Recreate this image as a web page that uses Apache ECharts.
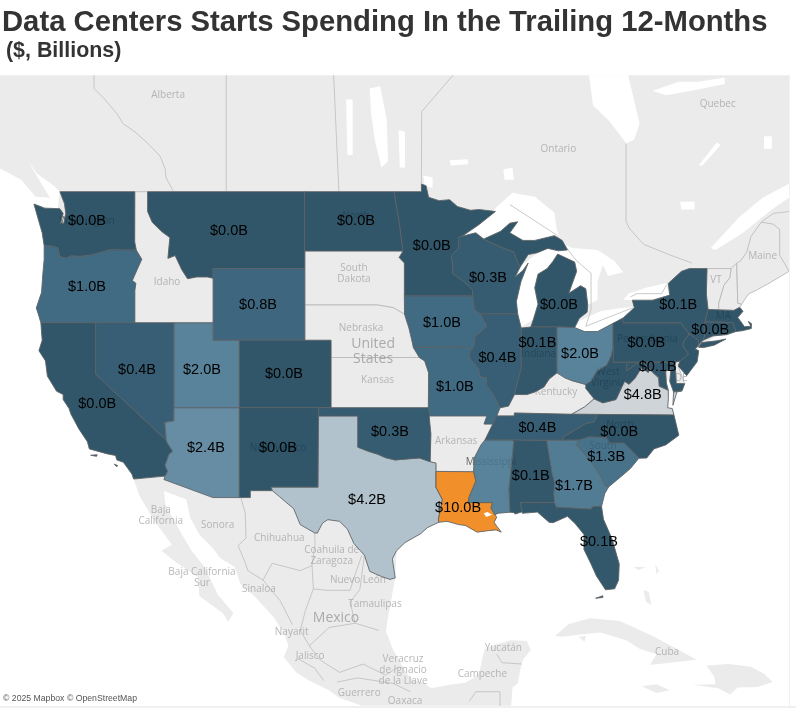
<!DOCTYPE html>
<html>
<head>
<meta charset="utf-8">
<title>Data Centers Starts Spending</title>
<script src="https://cdn.jsdelivr.net/npm/echarts@6/dist/echarts.min.js"></script>
<style>
html, body { margin: 0; padding: 0; background: #fff; }
#main { width: 796px; height: 712px; }
</style>
</head>
<body>
<div id="main"></div>
<script>
// values ($ billions)
var labeledStates = ['Washington', 'Oregon', 'California', 'Nevada', 'Montana', 'Wyoming', 'Utah', 'Colorado',
    'Arizona', 'New Mexico', 'North Dakota', 'Minnesota', 'Iowa', 'Missouri', 'Wisconsin', 'Illinois', 'Michigan',
    'Indiana', 'Ohio', 'Pennsylvania', 'New York', 'Massachusetts', 'Maryland', 'Virginia', 'Tennessee',
    'North Carolina', 'South Carolina', 'Georgia', 'Alabama', 'Florida', 'Texas', 'Oklahoma', 'Louisiana'];
var labeledValues = [0.0, 1.0, 0.0, 0.4, 0.0, 0.8, 2.0, 0.0,
    2.4, 0.0, 0.0, 0.0, 1.0, 1.0, 0.3, 0.4, 0.0,
    0.1, 2.0, 0.0, 0.1, 0.0, 0.1, 4.8, 0.4,
    0.0, 1.3, 1.7, 0.1, 0.1, 4.2, 0.3, 10.0];
// coloured on the map but the label was dropped in the original
var unlabeledStates = ['Mississippi', 'West Virginia', 'New Jersey', 'Connecticut', 'Rhode Island'];
var unlabeledValues = [2.0, 0.0, 0.0, 0.0, 0.0];

var colorRamp = ['#174157', '#295874', '#447490', '#6b90a8', '#9fb5c2', '#d3d7da',
    '#dfc5a6', '#e8af70', '#ec9f4d', '#ef902e', '#f18210'];

// state outlines, [lon, lat]
var outlines = {
    'Washington': [[[-124.73,48.38],[-123.9,48.17],[-123.1,48.15],[-122.75,48.14],[-122.5,47.9],[-122.7,47.4],[-122.45,47.4],[-122.3,47.9],[-122.4,48.4],[-122.75,49],[-117.03,49],[-117.04,46.42],[-116.92,45.99],[-118.98,46],[-119.3,45.93],[-120.5,45.7],[-121.2,45.65],[-121.9,45.68],[-122.3,45.55],[-122.78,45.65],[-122.9,46.1],[-123.4,46.2],[-123.95,46.22],[-124.1,46.9],[-124.4,47.6]]],
    'Oregon': [[[-123.95,46.22],[-123.4,46.2],[-122.9,46.1],[-122.78,45.65],[-122.3,45.55],[-121.9,45.68],[-121.2,45.65],[-120.5,45.7],[-119.3,45.93],[-118.98,46],[-116.92,45.99],[-116.5,45.5],[-116.85,44.95],[-117.22,44.35],[-116.95,44.2],[-117.03,43.8],[-117.03,42],[-124.2,42],[-124.4,42.5],[-124.55,42.84],[-124.15,43.7],[-124.05,44.7],[-123.95,45.5]]],
    'California': [[[-124.2,42],[-120,42],[-120,39],[-114.63,35],[-114.57,34.85],[-114.14,34.3],[-114.43,34.1],[-114.72,33.4],[-114.52,33.03],[-114.72,32.72],[-117.12,32.53],[-117.25,32.85],[-117.9,33.6],[-118.4,33.75],[-118.5,34.03],[-119.2,34.15],[-120.5,34.45],[-120.65,34.9],[-121.3,35.7],[-121.9,36.6],[-122.05,36.95],[-122.5,37.5],[-122.5,37.8],[-123,38],[-123.7,38.9],[-123.85,39.8],[-124.35,40.4],[-124.1,41]],
        [[-120.4,34.05],[-119.9,34.08],[-119.95,33.98]], [[-118.6,33.48],[-118.35,33.4],[-118.4,33.32]]],
    'Nevada': [[[-120,42],[-114.04,42],[-114.04,37],[-114.05,36.2],[-114.74,36.1],[-114.63,35],[-120,39]]],
    'Montana': [[[-116.05,49],[-104.05,49],[-104.05,45],[-111.05,45],[-111.05,44.48],[-111.5,44.55],[-112.3,44.55],[-113,44.45],[-113.45,44.95],[-113.95,45.7],[-114.5,45.55],[-114.35,46.65],[-114.95,46.95],[-115.7,47.45],[-116.05,48]]],
    'Wyoming': [[[-111.05,45],[-104.05,45],[-104.05,41],[-111.05,41]]],
    'Utah': [[[-114.04,42],[-111.05,42],[-111.05,41],[-109.05,41],[-109.05,37],[-114.04,37]]],
    'Colorado': [[[-109.05,41],[-102.05,41],[-102.05,37],[-109.05,37]]],
    'Arizona': [[[-114.04,37],[-109.05,37],[-109.05,31.33],[-111.07,31.33],[-114.81,32.5],[-114.72,32.72],[-114.52,33.03],[-114.72,33.4],[-114.43,34.1],[-114.14,34.3],[-114.57,34.85],[-114.63,35],[-114.74,36.1],[-114.05,36.2]]],
    'New Mexico': [[[-109.05,37],[-103,37],[-103.04,32],[-106.62,32],[-106.53,31.78],[-108.21,31.78],[-108.21,31.33],[-109.05,31.33]]],
    'North Dakota': [[[-104.05,49],[-97.23,49],[-96.85,47.5],[-96.55,45.94],[-104.05,45.94]]],
    'Minnesota': [[[-97.23,49],[-95.15,49],[-95.15,49.38],[-94.8,49.3],[-94.6,48.72],[-93.8,48.55],[-93,48.6],[-92.4,48.25],[-91.4,48.06],[-90.75,48.1],[-89.5,48],[-90.8,47.3],[-92.05,46.72],[-92.29,46.66],[-92.29,46.1],[-92.87,45.7],[-92.75,45.2],[-92.8,44.75],[-91.9,44.3],[-91.25,43.85],[-91.22,43.5],[-96.45,43.5],[-96.45,45.3],[-96.85,45.6],[-96.55,45.94],[-96.85,47.5]]],
    'Iowa': [[[-96.45,43.5],[-91.22,43.5],[-91.1,42.75],[-90.65,42.5],[-90.15,41.8],[-91.05,41.2],[-91.1,40.7],[-91.42,40.38],[-91.73,40.61],[-95.77,40.58],[-95.85,40.9],[-96.1,41.7],[-96.44,42.49]]],
    'Missouri': [[[-95.77,40.58],[-91.73,40.61],[-91.42,40.38],[-91.5,40],[-90.75,39.3],[-90.7,38.9],[-90.15,38.8],[-90.2,38.4],[-89.55,37.7],[-89.15,37],[-89.4,36.5],[-89.7,36],[-90.37,36],[-90.15,36.5],[-94.62,36.5],[-94.62,37],[-94.6,39.1],[-94.9,39.8],[-95.31,40]]],
    'Wisconsin': [[[-92.29,46.66],[-92.05,46.72],[-91,46.9],[-90.4,46.57],[-89,46.13],[-88.1,45.9],[-87.8,45.35],[-87.6,45.1],[-88,44.55],[-87.4,44.9],[-87,45.3],[-87.55,44.3],[-87.9,43.2],[-87.8,42.5],[-90.65,42.5],[-91.1,42.75],[-91.22,43.5],[-91.25,43.85],[-91.9,44.3],[-92.8,44.75],[-92.75,45.2],[-92.87,45.7],[-92.29,46.1]]],
    'Illinois': [[[-90.65,42.5],[-87.8,42.5],[-87.53,41.7],[-87.53,39.35],[-88.05,37.8],[-88.5,37.1],[-89.15,37],[-89.55,37.7],[-90.2,38.4],[-90.15,38.8],[-90.7,38.9],[-90.75,39.3],[-91.5,40],[-91.42,40.38],[-91.1,40.7],[-91.05,41.2],[-90.15,41.8]]],
    'Michigan': [[[-86.8,41.76],[-84.8,41.76],[-83.45,41.73],[-83.1,42.25],[-82.5,42.6],[-82.45,43],[-82.6,43.9],[-83,44.07],[-83.9,43.65],[-83.3,44.85],[-83.45,45.35],[-84.75,45.78],[-85.1,45.4],[-85.55,45],[-86.25,44.7],[-86.5,43.95],[-86.25,43.05],[-86.6,42.2]],
        [[-90.4,46.57],[-89.1,46.98],[-88.4,47.4],[-87.8,47.47],[-88.4,46.9],[-87.4,46.5],[-86.5,46.5],[-85,46.75],[-84.4,46.5],[-84,46],[-84.7,45.95],[-85.5,46.08],[-86.3,45.85],[-87,45.75],[-87.6,45.1],[-87.8,45.35],[-88.1,45.9],[-89,46.13]]],
    'Indiana': [[[-87.53,41.7],[-86.8,41.76],[-84.8,41.76],[-84.8,39.1],[-85.4,38.73],[-85.8,38.25],[-86.5,37.95],[-87.1,37.8],[-88.05,37.8],[-87.53,39.35]]],
    'Ohio': [[[-84.8,41.76],[-83.45,41.73],[-82.7,41.5],[-81.7,41.5],[-80.52,41.97],[-80.52,40.64],[-80.65,40.1],[-81,39.55],[-81.75,39.2],[-82.2,38.6],[-82.6,38.4],[-83.65,38.63],[-84.2,38.8],[-84.8,39.1]]],
    'Pennsylvania': [[[-80.52,41.97],[-79.76,42.27],[-79.76,42],[-75.35,42],[-74.7,41.36],[-75.1,40.95],[-75.2,40.68],[-74.75,40.2],[-75.4,39.8],[-75.79,39.72],[-80.52,39.72],[-80.52,40.64]]],
    'New York': [[[-79.76,42.27],[-78.9,42.85],[-79.05,43.27],[-77.5,43.27],[-76.2,43.55],[-76.3,44.2],[-75.3,44.85],[-74.7,45],[-73.35,45],[-73.4,43.6],[-73.27,42.75],[-73.5,42.05],[-73.5,41.3],[-73.65,41],[-73.9,40.8],[-74.05,40.65],[-74,41],[-74.7,41.36],[-75.35,42],[-79.76,42]],
        [[-74,40.6],[-73.75,40.87],[-72.6,40.97],[-71.9,41.07],[-72.8,40.72],[-73.6,40.58]]],
    'Massachusetts': [[[-73.27,42.75],[-71.3,42.7],[-70.85,42.87],[-70.6,42.65],[-71,42.3],[-70.65,41.95],[-70.5,41.78],[-70,41.8],[-70.2,42.08],[-69.95,41.95],[-69.97,41.67],[-70.65,41.55],[-71.15,41.5],[-71.38,42.02],[-71.8,42.02],[-73.5,42.05]]],
    'Maryland': [[[-79.48,39.72],[-75.79,39.72],[-75.7,38.46],[-75.05,38.45],[-75.25,38.03],[-75.9,37.95],[-76.2,38.6],[-76.1,39.3],[-76.5,39.2],[-76.45,38.5],[-76.3,38.05],[-77,38.3],[-77.05,38.8],[-77.5,39.12],[-77.72,39.32],[-78.2,39.68],[-78.77,39.6],[-79.48,39.2]]],
    'Virginia': [[[-83.68,36.6],[-81.68,36.59],[-75.87,36.55],[-76,36.95],[-76.35,37],[-76.3,37.55],[-76.3,38.05],[-77,38.3],[-77.05,38.8],[-77.5,39.12],[-77.72,39.32],[-77.83,39.13],[-78.35,39.4],[-78.87,38.76],[-79.3,38.42],[-79.65,38.6],[-80.3,37.5],[-81.3,37.3],[-81.97,37.54],[-82.7,37.05]],
        [[-75.95,37.15],[-75.65,37.95],[-75.25,38.03],[-75.9,37.95]]],
    'West Virginia': [[[-80.52,40.64],[-80.52,39.72],[-79.48,39.72],[-79.48,39.2],[-78.77,39.6],[-78.2,39.68],[-77.72,39.32],[-77.83,39.13],[-78.35,39.4],[-78.87,38.76],[-79.3,38.42],[-79.65,38.6],[-80.3,37.5],[-81.3,37.3],[-81.97,37.54],[-82.6,38.17],[-82.6,38.4],[-82.2,38.6],[-81.75,39.2],[-81,39.55],[-80.65,40.1]]],
    'New Jersey': [[[-74.7,41.36],[-74,41],[-74.05,40.65],[-74.25,40.5],[-73.98,40.4],[-74.1,39.75],[-74.9,38.93],[-75.55,39.5],[-75.4,39.8],[-74.75,40.2],[-75.2,40.68],[-75.1,40.95]]],
    'Connecticut': [[[-73.5,42.05],[-71.8,42.02],[-71.85,41.32],[-72.9,41.25],[-73.65,41],[-73.5,41.3]]],
    'Rhode Island': [[[-71.8,42.02],[-71.38,42.02],[-71.15,41.5],[-71.85,41.32]]],
    'Tennessee': [[[-90.3,35],[-89.7,36],[-89.4,36.5],[-88.07,36.5],[-88.05,36.68],[-83.68,36.6],[-81.68,36.59],[-82,36.1],[-82.6,36.03],[-83.1,35.77],[-84.3,35.2],[-84.32,34.99],[-88.2,35]]],
    'North Carolina': [[[-84.32,34.99],[-84.3,35.2],[-83.1,35.77],[-82.6,36.03],[-82,36.1],[-81.68,36.59],[-75.87,36.55],[-75.5,35.3],[-76.5,34.7],[-77.4,34.45],[-77.95,33.87],[-78.55,33.86],[-79.67,34.8],[-80.8,34.82],[-81.05,35.15],[-82.35,35.2],[-83.1,35]]],
    'South Carolina': [[[-83.35,34.7],[-83.1,35],[-82.35,35.2],[-81.05,35.15],[-80.8,34.82],[-79.67,34.8],[-78.55,33.86],[-79.2,33.2],[-79.9,32.7],[-80.85,32.03],[-81.1,32.1],[-81.4,32.6],[-81.9,33.3],[-82.75,34.2]]],
    'Georgia': [[[-85.6,34.98],[-83.1,35],[-83.35,34.7],[-82.75,34.2],[-81.9,33.3],[-81.4,32.6],[-81.1,32.1],[-80.85,32.03],[-81.15,31.6],[-81.4,30.75],[-82.05,30.75],[-82.2,30.57],[-84.86,30.7],[-85,31],[-85.05,31.55],[-85,32.3],[-85.18,32.87]]],
    'Alabama': [[[-88.2,35],[-85.6,34.98],[-85.18,32.87],[-85,32.3],[-85.05,31.55],[-85,31],[-87.6,31],[-87.45,30.4],[-88,30.25],[-88.1,30.35],[-88.4,30.37],[-88.47,31.9],[-88.1,34.9]]],
    'Mississippi': [[[-91.17,33],[-91.1,33.9],[-90.6,34.7],[-90.3,35],[-88.2,35],[-88.1,34.9],[-88.47,31.9],[-88.4,30.37],[-89.3,30.3],[-89.55,30.2],[-89.85,30.65],[-89.73,31],[-91.6,31],[-91.5,31.4],[-91,32.4]]],
    'Florida': [[[-87.6,31],[-85,31],[-84.86,30.7],[-82.2,30.57],[-82.05,30.75],[-81.4,30.75],[-81.25,29.9],[-80.6,28.6],[-80.05,26.9],[-80.1,25.8],[-80.4,25.2],[-81.1,25.13],[-81.8,26.1],[-82.2,26.9],[-82.75,27.9],[-82.65,28.8],[-83.4,29.6],[-84,30.1],[-85.1,29.68],[-85.4,29.7],[-86.3,30.38],[-87.45,30.3],[-87.45,30.4]],
        [[-81.85,24.55],[-81.3,24.72],[-81.3,24.6]]],
    'Texas': [[[-103,36.5],[-100,36.5],[-100,34.56],[-99.2,34.3],[-98.5,34.12],[-97.9,33.9],[-97.15,33.75],[-96.5,33.8],[-95.3,33.88],[-94.48,33.64],[-94.04,33.55],[-94.04,33.02],[-94.04,32],[-93.55,31.2],[-93.7,30.5],[-93.85,29.95],[-93.84,29.7],[-94.7,29.35],[-95.2,28.95],[-96.4,28.35],[-97.05,27.8],[-97.37,27.25],[-97.15,25.95],[-97.55,25.85],[-98.2,26.05],[-99.1,26.4],[-99.5,27.5],[-100.3,28.28],[-100.8,29.25],[-101.4,29.77],[-102.3,29.88],[-102.7,29.65],[-103.1,28.98],[-103.3,29],[-104.4,29.55],[-104.9,30.6],[-106,31.4],[-106.53,31.78],[-106.62,32],[-103.04,32]]],
    'Oklahoma': [[[-103,37],[-94.62,37],[-94.43,35.4],[-94.48,33.64],[-95.3,33.88],[-96.5,33.8],[-97.15,33.75],[-97.9,33.9],[-98.5,34.12],[-99.2,34.3],[-100,34.56],[-100,36.5],[-103,36.5]]],
    'Louisiana': [[[-94.04,33.02],[-91.17,33],[-91,32.4],[-91.5,31.4],[-91.6,31],[-89.73,31],[-89.85,30.65],[-89.55,30.2],[-89.4,30.05],[-89.6,29.7],[-89.4,29.45],[-89.05,29.05],[-89.45,29.2],[-90.05,29.15],[-90.9,29.05],[-91.8,29.5],[-92.3,29.55],[-93.2,29.77],[-93.84,29.7],[-93.85,29.95],[-93.7,30.5],[-93.55,31.2],[-94.04,32]]]
};

// states with no data stay part of the base map
var baseStates = {
    'Idaho': [[[-117.03,49],[-116.05,49],[-116.05,48],[-115.7,47.45],[-114.95,46.95],[-114.35,46.65],[-114.5,45.55],[-113.95,45.7],[-113.45,44.95],[-113,44.45],[-112.3,44.55],[-111.5,44.55],[-111.05,44.48],[-111.05,42],[-117.03,42],[-117.03,43.8],[-116.95,44.2],[-117.22,44.35],[-116.85,44.95],[-116.5,45.5],[-116.92,45.99],[-117.04,46.42]]],
    'South Dakota': [[[-104.05,45.94],[-96.55,45.94],[-96.85,45.6],[-96.45,45.3],[-96.45,43.5],[-96.44,42.49],[-97.3,42.85],[-98.5,43],[-104.05,43]]],
    'Nebraska': [[[-104.05,43],[-98.5,43],[-97.3,42.85],[-96.44,42.49],[-96.1,41.7],[-95.85,40.9],[-95.31,40],[-102.05,40],[-102.05,41],[-104.05,41]]],
    'Kansas': [[[-102.05,40],[-95.31,40],[-94.9,39.8],[-94.6,39.1],[-94.62,37],[-102.05,37]]],
    'Arkansas': [[[-94.62,36.5],[-90.15,36.5],[-90.37,36],[-89.7,36],[-90.3,35],[-90.6,34.7],[-91.1,33.9],[-91.17,33],[-94.04,33.02],[-94.04,33.55],[-94.48,33.64],[-94.43,35.4]]],
    'Kentucky': [[[-89.4,36.5],[-89.15,37],[-88.5,37.1],[-88.05,37.8],[-87.1,37.8],[-86.5,37.95],[-85.8,38.25],[-85.4,38.73],[-84.8,39.1],[-84.2,38.8],[-83.65,38.63],[-82.6,38.4],[-82.6,38.17],[-81.97,37.54],[-82.7,37.05],[-83.68,36.6],[-88.05,36.68],[-88.07,36.5]]],
    'Vermont': [[[-73.35,45],[-71.5,45],[-71.6,44.5],[-72.05,44.1],[-72.45,43.1],[-72.46,42.73],[-73.27,42.75],[-73.4,43.6]]],
    'New Hampshire': [[[-71.5,45],[-71.08,45.3],[-71,43.1],[-70.7,43.05],[-70.85,42.87],[-71.3,42.7],[-72.46,42.73],[-72.45,43.1],[-72.05,44.1],[-71.6,44.5]]],
    'Maine': [[[-71.08,45.3],[-70.8,45.4],[-70.3,45.9],[-70,46.7],[-69.2,47.45],[-68.3,47.35],[-67.8,47.07],[-67.8,45.7],[-67.45,45.3],[-67.09,44.85],[-68.5,44.25],[-69.5,43.85],[-70.2,43.6],[-70.7,43.05],[-71,43.1]]],
    'Delaware': [[[-75.79,39.72],[-75.4,39.8],[-75.55,39.5],[-75.05,38.45],[-75.7,38.46]]]
};

var mapBounds = [[[-127.32,54.5],[-67.09,54.5],[-67.09,16.87],[-127.32,16.87]]];

var landOutlines = [
    // continent, running inland behind the coloured states
    [[-127.32,54.5],[-67.09,54.5],[-67.09,44.85],[-68.5,44.25],[-69.5,43.85],[-70.2,43.6],[-70.7,43.05],[-70.85,42.87],[-72,41.6],[-75,40],[-77,38],[-78,35],[-81,32.5],[-82,30.2],[-84,30.6],[-88,31],[-90,30.5],[-93.8,30],[-97,28.5],[-97.15,25.95],
     [-97.75,23],[-97.85,22.2],[-97.3,20.9],[-96.4,19.4],[-95.9,18.8],[-95,18.55],[-94.4,18.15],[-93,18.4],[-91.8,18.55],[-91,19],[-90.7,19.4],[-90.45,20.5],[-90.3,21],[-89.5,21.3],[-88.3,21.6],[-87.1,21.55],[-86.8,20.9],[-87.4,20.2],[-87.6,19.5],[-87.8,18.5],[-88.2,18.2],[-88.3,16.87],
     [-99.7,16.87],[-101.5,17.5],[-102.2,18],[-103.7,18.7],[-104.7,19.3],[-105.65,20.4],[-105.3,21.2],[-105.6,22],[-106.4,23.2],[-107.8,24.6],[-109,25.6],[-109.4,26.7],[-110.5,27.3],[-111,27.9],[-112.1,28.9],[-112.8,30],[-113.1,31.2],[-114.8,31.75],
     [-114.7,30.9],[-113.5,29],[-112.7,27.8],[-111.7,26.7],[-110.7,24.8],[-109.5,23.5],[-109.9,22.9],[-110.3,23.5],[-112.1,24.7],[-112.2,26],[-114,27.1],[-115,27.8],[-114.2,28.2],[-115.7,30],[-116.7,31.5],[-117.12,32.53],
     [-117,33],[-119.5,35],[-121.5,38],[-123,40],[-123.5,42],[-123.3,46],[-122.75,49],[-123.2,49.3],[-124.5,49.9],[-125.2,50.55],[-124.3,49.55],[-123.5,48.7],[-124.6,48.75],[-125.7,49.6],[-127.32,50.15]],
    // Cuba, Isla de la Juventud, Hispaniola, Jamaica
    [[-84.95,21.9],[-83.9,22.75],[-82.3,23.15],[-80,22.95],[-77.5,21.9],[-75.5,20.9],[-74.15,20.2],[-77,19.9],[-77.7,19.85],[-77.2,20.6],[-78.5,21],[-79.5,21.6],[-81.5,22.15],[-83,22],[-84.4,21.85]],
    [[-83.15,21.85],[-82.6,21.9],[-82.7,21.5]],
    [[-74.45,18.4],[-72.7,18.45],[-72.8,19],[-73.4,19.8],[-71.7,19.9],[-70,19.7],[-69,19.2],[-68.35,18.6],[-69.5,18.25],[-71,18.2],[-71.6,17.7],[-72.5,18.15]],
    [[-78.35,18.3],[-77.2,18.45],[-76.2,18],[-77.2,17.8]],
    // Bahamas
    [[-78.2,25.1],[-77.8,25],[-77.6,24.1],[-78,24.3]], [[-78.9,26.7],[-78,26.7],[-78.6,26.5]], [[-77.3,26.9],[-77,26.4],[-77.2,26.2]]
];

var waterOutlines = [
    [[-92.1,46.7],[-90,47.8],[-89.3,48.3],[-88.2,48.95],[-86.5,48.75],[-85,47.95],[-84.8,47],[-84.5,46.5],[-87,46.3],[-90,46.5]],
    [[-87.9,41.6],[-87.8,45],[-86,46],[-84.4,46.3],[-83.6,46.1],[-81.7,46],[-80.4,45.4],[-79.75,44.8],[-80.9,44.6],[-81.3,45.2],[-81.7,44.3],[-81.7,43.3],[-82.45,43],[-83,44],[-84,43.5],[-87,42]],
    [[-83.45,41.7],[-83.1,42.1],[-81.5,42.65],[-80.2,42.8],[-78.9,42.9],[-79.7,42.3],[-81.7,41.5],[-82.7,41.45]],
    [[-79.75,43.28],[-79.3,43.65],[-78,43.95],[-76.5,44.2],[-76.2,43.55],[-77.5,43.25]],
    // James Bay
    [[-82.35,54.5],[-79.37,54.5],[-78.5,52.3],[-78.9,51.55],[-79.5,51.35],[-80.8,52.4],[-82.05,53.13]],
    // St Lawrence
    [[-73.07,46.1],[-70.9,47.7],[-69.1,48.7],[-67.09,49.4],[-67.09,48.7],[-68.3,48.15],[-70.6,46.9],[-72.7,46]],
    // Manitoba lakes
    [[-99.1,53.9],[-98.3,54],[-97.8,52.5],[-97.7,50.5],[-98.2,50.2],[-98.7,51.5],[-99,52.8]],
    [[-96.9,52],[-96.4,51.9],[-96.4,50.2],[-96.8,50.2]],
    [[-100.9,53.4],[-100.4,53.4],[-100.4,50.8],[-100.8,50.8]],
    // Ontario lakes
    [[-95,49.8],[-94.3,49.7],[-94.3,49.2],[-94.9,49.3]],
    [[-88.9,50.1],[-88.2,50.2],[-88.1,49.6],[-88.8,49.6]],
    [[-93,50.55],[-91.6,50.6],[-91.6,50.35],[-92.9,50.3]],
    // Quebec lakes
    [[-72.6,51.4],[-72.3,51.3],[-73.7,50.3],[-74,50.3]],
    [[-69,51.7],[-68.4,51.7],[-68.4,51.1],[-69,51.1]],
    [[-75.4,48.5],[-74.3,48.5],[-74.3,48.1],[-75.3,48.1]],
    [[-77.5,53.8],[-75.5,54.2],[-74,54.2],[-72,54.4],[-72,54.1],[-74.5,53.8],[-76.5,53.6]]
];

// drawn last, sits over Louisiana
var pontchartrain = [[[-90.4,30.3],[-90.1,30.38],[-89.75,30.2],[-90.2,30.05]]];

var borderLines = [
    [[-120.14,54.5],[-120.14,53.9],[-119.45,53.5],[-118.39,52.75],[-117.93,52.3],[-117.01,51.9],[-116.1,51.4],[-115.1,50.75],[-114.72,50.15],[-114.65,49.7],[-114.11,49.05]],
    [[-110.05,54.5],[-110.05,49]],
    [[-101.85,54.5],[-101.45,49]],
    [[-92.73,54.5],[-95.13,52.85],[-95.15,49.38]],
    [[-79.53,51.35],[-79.53,47.5],[-79.3,47.15],[-78.2,46.3],[-76.25,45.75],[-74.5,45.3]],
    [[-69.2,47.45],[-68.3,47.9],[-67.09,48]],
    // boundary through the lakes
    [[-88.4,48.35],[-84.8,46.77],[-83.35,45.45],[-82.2,44.75],[-82.2,42.75],[-82.6,41.8],[-81.25,42.2],[-79,42.85]],
    [[-79.2,43.45],[-78.7,43.63],[-76.8,43.63],[-76.45,44.1]],
    // Mexican states
    [[-108.92,31.3],[-108.6,30.3],[-108.54,28.65],[-109.15,28.15],[-108.6,27],[-108.4,26.45],[-107.24,25.8],[-105.95,24.4],[-105,22.7]],
    [[-107.24,25.8],[-106.55,26.95],[-104.4,26.45],[-103.5,26.8],[-103.27,28.25],[-103.3,29]],
    [[-103.5,26.8],[-103.4,25.2],[-104,23.7],[-104.4,22.3]],
    [[-99.7,27.5],[-100.2,26.2],[-100.6,25.1],[-102.5,25.1],[-103.4,25.2]],
    [[-99.5,27.5],[-99.85,25.15],[-100.6,24.3],[-100.2,22.8]],
    [[-104.4,22.3],[-103.7,21.2],[-102.2,22.5],[-100.2,22.8],[-98.4,22.3]],
    [[-103.7,21.2],[-102.9,20.2],[-101.4,19.3],[-99.6,19.9],[-97.9,19.1],[-96.9,19.7]],
    [[-104.6,20.3],[-103.3,19.6],[-102.6,18.7]],
    [[-101.6,18.6],[-100,18.9],[-97.3,18.5],[-96,17.9]],
    [[-89.4,20.6],[-89,20],[-87.5,19.9]],
    [[-91,17.9],[-89.15,17.9],[-89.15,16.87]],
    [[-91,17.9],[-91.5,17.2]]
];

// names printed by the base map
var placeNames = ['Alberta', 'Quebec', 'Ontario', 'South\nDakota', 'Nebraska', 'Kansas', 'Idaho', 'Maine', 'Kentucky',
    'Arkansas', 'VT', 'DE', 'Baja\nCalifornia', 'Sonora', 'Chihuahua', 'Coahuila de\nZaragoza', 'Baja California\nSur',
    'Nuevo León', 'Sinaloa', 'Tamaulipas', 'Nayarit', 'Jalisco', 'Guerrero', 'Veracruz\nde Ignacio\nde la Llave', 'Oaxaca',
    'Yucatán', 'Campeche', 'Cuba'];
var placeCoords = [[-114.49,53.6], [-72.53,53.2], [-84.7,51.1], [-100.3,44.7], [-99.76,41.67], [-98.5,38.65], [-114.57,44.25], [-69.1,45.67], [-84.88,37.96],
    [-92.5,34.94], [-72.67,44.35], [-75.33,38.8], [-115.05,30.17], [-110.7,29.5], [-106,28.65], [-102,27.5], [-111.9,26],
    [-100,25.8], [-107.55,25.17], [-98.7,24.15], [-105.05,22.15], [-103.65,20.45], [-99.9,17.8], [-96.55,19.45], [-96.4,17.2],
    [-88.9,21], [-90.5,19.15], [-76.4,20.75]];
var bigPlaceNames = ['United\nStates', 'Mexico'];
var bigPlaceCoords = [[-98.84,40.33], [-101.67,23.15]];
// these only show faintly through the coloured states
var coveredNames = ['Washington', 'North', 'Mississippi', 'West\nVirginia', 'Indiana', 'Pennsylvania', 'MA', 'New Mexico', 'North', 'South'];
var coveredCoords = [[-120.68,47.5], [-100.15,47.75], [-89.84,33.6], [-80.9,38.8], [-86.2,40.2], [-77.9,41.05], [-72.1,42.4], [-106.1,34.5], [-80,35.95], [-81.3,34.65]];

// value label anchors sit in the geometry as the cp property
var labelAnchors = {
    'Washington': [-120.68,47.5], 'Oregon': [-120.68,44], 'California': [-119.9,37.25], 'Nevada': [-116.86,39.25],
    'Montana': [-109.84,47], 'Wyoming': [-107.62,43], 'Utah': [-111.9,39.25], 'Colorado': [-105.64,39],
    'Arizona': [-111.6,34.5], 'New Mexico': [-106.1,34.5], 'North Dakota': [-100.15,47.5], 'Minnesota': [-94.36,46.2],
    'Iowa': [-93.58,42], 'Missouri': [-92.6,38.25], 'Wisconsin': [-90.07,44.5], 'Illinois': [-89.35,40],
    'Michigan': [-84.65,43], 'Indiana': [-86.3,40.85], 'Ohio': [-83.04,40.2], 'Pennsylvania': [-77.98,40.85],
    'New York': [-75.54,43], 'Massachusetts': [-73.1,41.6], 'Maryland': [-77.11,39.45], 'Virginia': [-78.26,37.8],
    'Tennessee': [-86.3,35.75], 'North Carolina': [-80.05,35.5], 'South Carolina': [-81.05,33.95], 'Georgia': [-83.5,32.1],
    'Alabama': [-86.8,32.75], 'Florida': [-81.6,28.4], 'Texas': [-99.3,31.2], 'Oklahoma': [-97.55,35.5], 'Louisiana': [-92.35,30.65]
};

function feature(name, rings, cp) {
    var props = { name: name };
    if (cp) props.cp = cp;
    return {
        type: 'Feature',
        properties: props,
        geometry: { type: 'MultiPolygon', coordinates: rings.map(function (r) { return [r]; }) }
    };
}

// land under the coloured states, their fill is slightly see-through
var underRings = [];
Object.keys(outlines).forEach(function (name) {
    underRings = underRings.concat(outlines[name]);
});

var baseFeatures = [feature('Bounds', mapBounds), feature('Land', landOutlines), feature('Water', waterOutlines), feature('Under', underRings)];
Object.keys(baseStates).forEach(function (name) {
    baseFeatures.push(feature(name, baseStates[name]));
});

var stateFeatures = [feature('Bounds', mapBounds)];
Object.keys(outlines).forEach(function (name) {
    stateFeatures.push(feature(name, outlines[name], labelAnchors[name]));
});
stateFeatures.push(feature('Pontchartrain', pontchartrain));

echarts.registerMap('baseMap', { type: 'FeatureCollection', features: baseFeatures });
echarts.registerMap('stateMap', { type: 'FeatureCollection', features: stateFeatures });

// web mercator, scaled to the 796x712 picture
var R = 750.6, PX_PER_DEG = 13.1;
function merc(lat) { return Math.log(Math.tan(Math.PI / 4 + lat * Math.PI / 360)); }
var mercator = {
    project: function (p) {
        return [239.3 + (p[0] + 109.05) * PX_PER_DEG, 340 - R * (merc(p[1]) - merc(41))];
    },
    unproject: function (p) {
        var m = merc(41) + (340 - p[1]) / R;
        return [(p[0] - 239.3) / PX_PER_DEG - 109.05, (2 * Math.atan(Math.exp(m)) - Math.PI / 2) * 180 / Math.PI];
    }
};

function placeData(names, coords) {
    return names.map(function (n, i) { return { name: n, value: coords[i] }; });
}

function placeSeries(names, coords, color, size) {
    return {
        type: 'scatter', coordinateSystem: 'geo', geoIndex: 0, z: 1, silent: true, symbolSize: 0,
        data: placeData(names, coords),
        label: {
            show: true, position: 'inside', formatter: '{b}', color: color, fontSize: size,
            fontFamily: 'Open Sans', lineHeight: size + 1
        }
    };
}

var stateData = [{ name: 'Bounds', itemStyle: { areaColor: 'transparent', borderWidth: 0, opacity: 0 }, label: { show: false } }];
labeledStates.forEach(function (n, i) {
    stateData.push({ name: n, value: labeledValues[i] });
});
unlabeledStates.forEach(function (n, i) {
    stateData.push({ name: n, value: unlabeledValues[i], label: { show: false } });
});
stateData.push({ name: 'Pontchartrain', itemStyle: { areaColor: '#fff', borderWidth: 0, opacity: 1 }, label: { show: false } });

var myChart = echarts.init(document.getElementById('main'));
myChart.setOption({
    backgroundColor: '#fff',
    animation: false,
    title: [
        { text: 'Data Centers Starts Spending In the Trailing 12-Months', left: 2, top: 8, padding: 0, textStyle: { fontFamily: 'Liberation Sans', fontWeight: 'bold', fontSize: 29.25, color: '#333' } },
        { text: '($, Billions)', left: 6, top: 41, padding: 0, textStyle: { fontFamily: 'Liberation Sans', fontWeight: 'bold', fontSize: 21.4, color: '#333' } },
        { text: '© 2025 Mapbox © OpenStreetMap', left: 3, top: 694, padding: 0, z: 10, textStyle: { fontFamily: 'Liberation Sans', fontWeight: 'normal', fontSize: 8.7, color: '#555' } }
    ],
    visualMap: {
        show: false, type: 'continuous', seriesIndex: 0, min: 0, max: 10,
        inRange: { color: colorRamp }
    },
    geo: {
        map: 'baseMap', z: 0, silent: true, roam: false,
        projection: mercator,
        layoutCenter: [394.5, 390.5], layoutSize: 789,
        itemStyle: { areaColor: '#ebebeb', borderWidth: 0 },
        label: { show: false },
        regions: [
            { name: 'Bounds', itemStyle: { areaColor: '#fff' } },
            { name: 'Water', itemStyle: { areaColor: '#fff' } }
        ].concat(Object.keys(baseStates).map(function (n) {
            return { name: n, itemStyle: { areaColor: '#ebebeb', borderColor: '#b5b5b5', borderWidth: 0.8 } };
        }))
    },
    series: [
        {
            type: 'map', map: 'stateMap', z: 3, silent: true, roam: false,
            projection: mercator,
            layoutCenter: [394.5, 390.5], layoutSize: 789,
            data: stateData,
            itemStyle: { borderColor: '#5f6468', borderWidth: 1, opacity: 0.88 },
            label: {
                show: true, color: '#000', fontFamily: 'Liberation Sans', fontSize: 14.5,
                formatter: function (p) { return '$' + p.value.toFixed(1) + 'B'; }
            }
        },
        {
            type: 'lines', coordinateSystem: 'geo', geoIndex: 0, z: 1, silent: true, polyline: true,
            data: borderLines.map(function (c) { return { coords: c }; }),
            lineStyle: { color: '#bdbdbd', width: 0.8, opacity: 1 }
        },
        placeSeries(placeNames, placeCoords, '#a6a6a6', 10),
        placeSeries(bigPlaceNames, bigPlaceCoords, '#9a9a9a', 14),
        placeSeries(coveredNames, coveredCoords, '#444', 10)
    ],
    graphic: [
        { type: 'rect', z: 20, shape: { x: 0, y: 706, width: 796, height: 2 }, style: { fill: '#f0f0f0' } },
        { type: 'rect', z: 20, shape: { x: 789, y: 75, width: 1, height: 631 }, style: { fill: '#f2f2f2' } }
    ]
});
</script>
</body>
</html>
